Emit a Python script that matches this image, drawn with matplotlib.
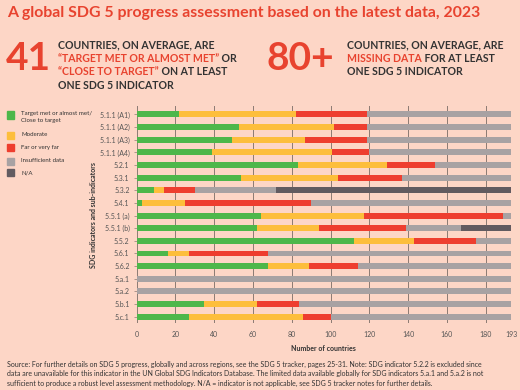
import matplotlib
matplotlib.use("Agg")
import matplotlib.pyplot as plt
from matplotlib.patches import Rectangle

plt.rcParams['font.family'] = ['Lato', 'DejaVu Sans']

indicators = ["5.1.1 (A1)", "5.1.1 (A2)", "5.1.1 (A3)", "5.1.1 (A4)", "5.2.1", "5.3.1",
              "5.3.2", "5.4.1", "5.5.1 (a)", "5.5.1 (b)", "5.5.2", "5.6.1", "5.6.2",
              "5.a.1", "5.a.2", "5.b.1", "5.c.1"]
target_met = [22, 53, 49, 39, 83, 54, 9, 3, 64, 62, 112, 16, 68, 0, 0, 35, 27]
moderate   = [60, 49, 38, 62, 46, 50, 5, 22, 53, 32, 31, 11, 21, 0, 0, 27, 59]
far        = [37, 17, 32, 19, 25, 33, 16, 65, 72, 45, 32, 41, 25, 0, 0, 22, 14]
insufficient = [74, 74, 74, 73, 39, 56, 42, 103, 4, 28, 18, 125, 79, 193, 193, 109, 93]
not_applicable = [0, 0, 0, 0, 0, 0, 121, 0, 0, 26, 0, 0, 0, 0, 0, 0, 0]
series_names = ["Target met or almost met/\nClose to target", "Moderate", "Far or very far",
                "Insufficient data", "N/A"]
xticks = [0, 20, 40, 60, 80, 100, 120, 140, 160, 180, 193]

BG = "#FDD6C6"
colors = ["#4DB74A", "#FDBE3B", "#EE3E2F", "#A8A2A3", "#625B60"]
RED = "#E8432F"
DARK = "#333333"

fig = plt.figure(figsize=(5.2, 3.9), dpi=100, facecolor=BG)

ax = fig.add_axes([136.5/520, 1-323/390, 374.5/520, 217/390])
ax.set_facecolor(BG)
series = [target_met, moderate, far, insufficient, not_applicable]
ypos = list(range(len(indicators)))
left = [0]*len(indicators)
for vals, c in zip(series, colors):
    ax.barh(ypos, vals, left=left, height=0.47, color=c, zorder=3)
    left = [l + v for l, v in zip(left, vals)]

ax.set_xlim(0, 193)
ax.set_ylim(16.5, -0.67)
ax.set_xticks(xticks)
ax.set_xticklabels([str(t) for t in xticks], fontsize=5, color="#555555")
ax.set_yticks(ypos)
ax.set_yticklabels(indicators, fontsize=5, color="#555555")
ax.tick_params(axis='x', length=0, pad=6)
ax.tick_params(axis='y', length=2, width=0.5, color="#8C7B73", pad=3)
for t in xticks:
    ax.axvline(t, color="#8C7B73", lw=0.7, zorder=1)
for s in ax.spines.values():
    s.set_visible(False)
ax.set_xlabel("Number of countries", fontsize=5, fontweight='bold', color=DARK, labelpad=5)
ax.set_ylabel("SDG indicators and sub-indicators", fontsize=5, fontweight='bold', color=DARK, labelpad=2)

# Legend (manual, in figure coordinates)
leg_y = [115, 135, 148, 161, 173]
for name, c, y in zip(series_names, colors, leg_y):
    fig.patches.append(Rectangle((7/520, 1-(y+3.5)/390), 7/520, 7/390,
                                 transform=fig.transFigure, color=c, figure=fig))
    fig.text(21/520, 1-(y-4)/390 if "\n" in name else 1-y/390, name, fontsize=4.4,
             color=DARK, va='top' if "\n" in name else 'center', linespacing=1.5)

# Title
fig.text(7/520, 1-13/390, "A global SDG 5 progress assessment based on the latest data, 2023",
         fontsize=11.4, fontweight='bold', color=RED, va='center')

# Headline numbers
fig.text(6/520, 1-58/390, "41", fontsize=28, fontweight='bold', color=RED, va='center')
fig.text(266/520, 1-58/390, "80+", fontsize=28, fontweight='bold', color=RED, va='center')

renderer = fig.canvas.get_renderer()

def rich_lines(x, lines, fs=7.6):
    for i, parts in enumerate(lines):
        y = 1 - (45 + 13.4*i)/390
        xx = x
        for txt, col in parts:
            t = fig.text(xx, y, txt, fontsize=fs, fontweight='bold', color=col, va='center')
            bb = t.get_window_extent(renderer=renderer)
            xx += bb.width / fig.bbox.width

rich_lines(58/520, [[("COUNTRIES, ON AVERAGE, ARE", DARK)],
                    [("\u201cTARGET MET OR ALMOST MET\u201d", RED), (" OR", DARK)],
                    [("\u201cCLOSE TO TARGET\u201d", RED), (" ON AT LEAST", DARK)],
                    [("ONE SDG 5 INDICATOR", DARK)]])
rich_lines(347/520, [[("COUNTRIES, ON AVERAGE, ARE", DARK)],
                     [("MISSING DATA", RED), (" FOR AT LEAST", DARK)],
                     [("ONE SDG 5 INDICATOR", DARK)]])

note = ("Source: For further details on SDG 5 progress, globally and across regions, see the SDG 5 tracker, pages 25-31. Note: SDG indicator 5.2.2 is excluded since\n"
        "data are unavailable for this indicator in the UN Global SDG Indicators Database. The limited data available globally for SDG indicators 5.a.1 and 5.a.2 is not\n"
        "sufficient to produce a robust level assessment methodology. N/A = indicator is not applicable, see SDG 5 tracker notes for further details.")
fig.text(7/520, 1-361/390, note, fontsize=5.0, color=DARK, va='top', linespacing=1.4)

fig.savefig("out.png", dpi=100, facecolor=BG)
